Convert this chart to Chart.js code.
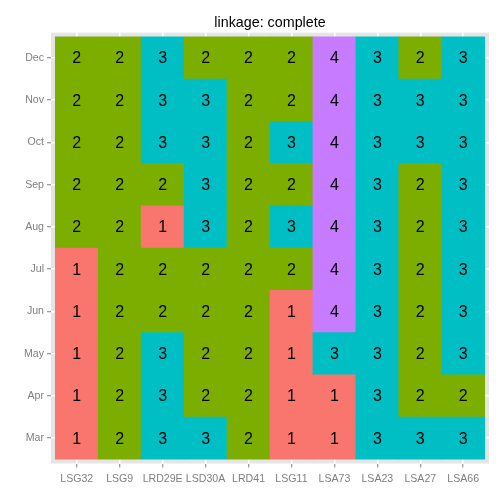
<!DOCTYPE html>
<html><head><meta charset="utf-8">
<script src="https://cdn.jsdelivr.net/npm/chart.js@4"></script>
<style>html,body{margin:0;padding:0;background:#fff}#wrap{width:504px;height:504px}</style>
</head><body><div id="wrap"><canvas id="c" width="504" height="504"></canvas></div>
<script>
const stations = ["LSG32","LSG9","LRD29E","LSD30A","LRD41","LSG11","LSA73","LSA23","LSA27","LSA66"];
const months = ["Mar","Apr","May","Jun","Jul","Aug","Sep","Oct","Nov","Dec"];
// cluster per month (row), per station (column)
const clusterMar = [1,2,3,3,2,1,1,3,3,3];
const clusterApr = [1,2,3,2,2,1,1,3,2,2];
const clusterMay = [1,2,3,2,2,1,3,3,2,3];
const clusterJun = [1,2,2,2,2,1,4,3,2,3];
const clusterJul = [1,2,2,2,2,2,4,3,2,3];
const clusterAug = [2,2,1,3,2,3,4,3,2,3];
const clusterSep = [2,2,2,3,2,2,4,3,2,3];
const clusterOct = [2,2,3,3,2,3,4,3,3,3];
const clusterNov = [2,2,3,3,2,2,4,3,3,3];
const clusterDec = [2,2,3,2,2,2,4,3,2,3];
const clusterRows = [clusterMar,clusterApr,clusterMay,clusterJun,clusterJul,clusterAug,clusterSep,clusterOct,clusterNov,clusterDec];
const clusterColors = {1:"#F8766D",2:"#7CAE00",3:"#00BFC4",4:"#C77CFF"};

const datasets = clusterRows.map((row, r) => ({
  label: months[r],
  data: row.map((v, i) => ({x: i, y: [r - 0.5, r + 0.5], v: v})),
  backgroundColor: row.map(v => clusterColors[v]),
  borderWidth: 0,
  barPercentage: 1.0,
  categoryPercentage: 1.0,
  grouped: false
}));

const panelBg = {
  id: 'panelBg',
  beforeDraw(chart) {
    const {ctx, chartArea: a} = chart;
    ctx.save();
    ctx.fillStyle = '#E5E5E5';
    ctx.fillRect(a.left, a.top, a.right - a.left, a.bottom - a.top);
    ctx.restore();
  }
};
const cellText = {
  id: 'cellText',
  afterDatasetsDraw(chart) {
    const ctx = chart.ctx;
    ctx.save();
    ctx.fillStyle = '#000';
    ctx.font = '16px "Liberation Sans", Arial, sans-serif';
    ctx.textAlign = 'center';
    ctx.textBaseline = 'middle';
    chart.data.datasets.forEach((ds, di) => {
      const meta = chart.getDatasetMeta(di);
      meta.data.forEach((el, i) => {
        const cy = (el.y + el.base) / 2;
        ctx.fillText(String(ds.data[i].v), el.x, cy + 1);
      });
    });
    ctx.restore();
  }
};

new Chart(document.getElementById('c'), {
  type: 'bar',
  data: { datasets },
  options: {
    responsive: false,
    animation: false,
    devicePixelRatio: 1,
    layout: { padding: { left: 0, right: 15, top: 0, bottom: 0 } },
    plugins: {
      legend: { display: false },
      tooltip: { enabled: false },
      title: {
        display: true,
        text: 'linkage: complete',
        fullSize: false,
        color: '#000',
        font: { family: '"Liberation Sans", Arial, sans-serif', size: 14.3, weight: 'normal' },
        padding: { top: 14.5, bottom: 1 }
      }
    },
    scales: {
      x: {
        type: 'linear',
        min: -0.6, max: 9.6,
        offset: false,
        afterBuildTicks: s => { s.ticks = stations.map((_, i) => ({value: i})); },
        afterFit: s => { s.height = 40.5; },
        ticks: {
          autoSkip: false, maxRotation: 0,
          callback: v => stations[v],
          color: '#7F7F7F',
          font: { family: '"Liberation Sans", Arial, sans-serif', size: 10.6 },
          padding: 5
        },
        grid: { offset: false, color: '#FFFFFF', lineWidth: 1.5, tickColor: '#7F7F7F', tickLength: 4, tickWidth: 1 },
        border: { display: false }
      },
      y: {
        type: 'linear',
        min: -0.6, max: 9.6,
        afterBuildTicks: s => { s.ticks = months.map((_, i) => ({value: i})); },
        afterFit: s => { s.width = 51; },
        ticks: {
          autoSkip: false,
          callback: v => months[v],
          color: '#7F7F7F',
          font: { family: '"Liberation Sans", Arial, sans-serif', size: 10.6 },
          padding: 3
        },
        grid: { offset: false, color: '#FFFFFF', lineWidth: 1.5, tickColor: '#7F7F7F', tickLength: 4, tickWidth: 1 },
        border: { display: false }
      }
    }
  },
  plugins: [panelBg, cellText]
});
</script></body></html>
